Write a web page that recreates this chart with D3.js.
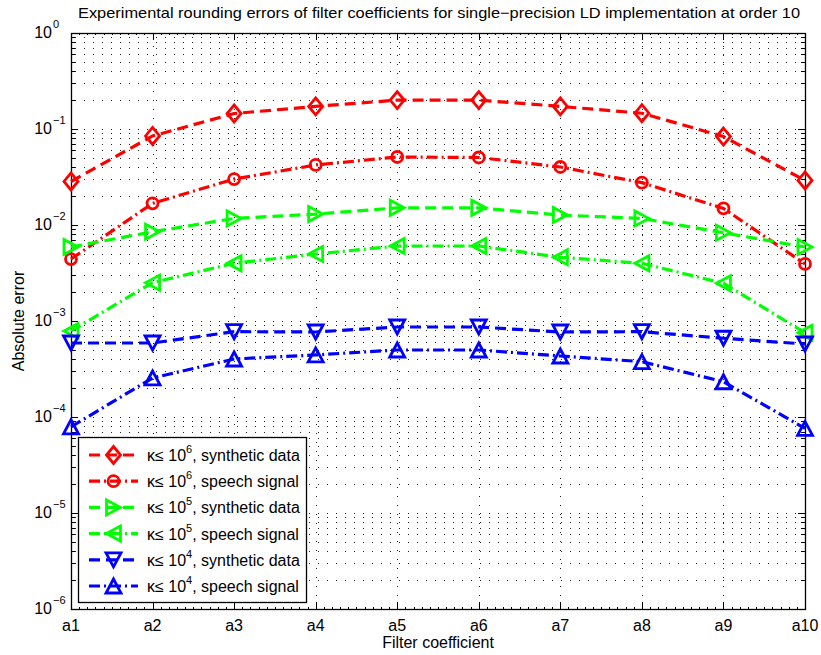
<!DOCTYPE html>
<html>
<head>
<title>Rounding errors of filter coefficients</title>
<script src="https://d3js.org/d3.v7.min.js"></script>
<style>
body { margin: 0; background: #fff; }
text { font-family: "Liberation Sans", Arial, Helvetica, sans-serif; fill: #000; }
</style>
</head>
<body>
<svg width="821" height="655"></svg>
<script>
// chart data
var coefficients = ["a1", "a2", "a3", "a4", "a5", "a6", "a7", "a8", "a9", "a10"];
var k6Synthetic = [0.0284, 0.0846, 0.145, 0.172, 0.200, 0.200, 0.172, 0.146, 0.0835, 0.0291];
var k6Speech    = [0.00442, 0.0168, 0.0301, 0.0422, 0.0511, 0.0505, 0.0402, 0.0276, 0.0149, 0.00393];
var k5Synthetic = [0.0059, 0.0085, 0.0117, 0.0130, 0.0151, 0.0151, 0.0127, 0.0117, 0.0083, 0.0059];
var k5Speech    = [0.000787, 0.00251, 0.00399, 0.00499, 0.00604, 0.00604, 0.00461, 0.00399, 0.00247, 0.000755];
var k4Synthetic = [0.00059, 0.00059, 0.000774, 0.000768, 0.000866, 0.000866, 0.000768, 0.000774, 0.000661, 0.000576];
var k4Speech    = [0.000079, 0.000255, 0.000402, 0.000443, 0.000499, 0.000499, 0.000432, 0.000377, 0.000233, 0.000076];
var kappaExponents = [6, 6, 5, 5, 4, 4];
var signalKinds = ["synthetic data", "speech signal", "synthetic data", "speech signal", "synthetic data", "speech signal"];
var yTickExponents = [0, -1, -2, -3, -4, -5, -6];

var titleText = "Experimental rounding errors of filter coefficients for single\u2212precision LD implementation at order 10";

var series = [
    { values: k6Synthetic, color: "#ff0000", dash: "11,6", marker: "diamond" },
    { values: k6Speech,    color: "#ff0000", dash: "11,4,2,4", marker: "circle" },
    { values: k5Synthetic, color: "#00ff00", dash: "11,6", marker: "right" },
    { values: k5Speech,    color: "#00ff00", dash: "11,4,2,4", marker: "left" },
    { values: k4Synthetic, color: "#0000ff", dash: "11,6", marker: "down" },
    { values: k4Speech,    color: "#0000ff", dash: "11,4,2,4", marker: "up" }
];

var svg = d3.select("svg");
var pLeft = 71, pRight = 805, pTop = 33, pBottom = 609;

var x = d3.scalePoint().domain(coefficients).range([pLeft, pRight]);
var y = d3.scaleLog().domain([1e-6, 1]).range([pBottom, pTop]);

// grid (dotted), major and minor decades
var grid = svg.append("g").attr("stroke", "#222").attr("stroke-width", 1)
    .attr("stroke-dasharray", "1,8").attr("fill", "none");
var minorVals = [];
for (var e = -6; e < 0; e++) {
    for (var m = 1; m < 10; m++) minorVals.push(m * Math.pow(10, e));
}
minorVals.push(1);
grid.selectAll(".hgrid").data(minorVals.slice(1, -1)).enter().append("line")
    .attr("x1", pLeft + 4).attr("x2", pRight)
    .attr("y1", function(d) { return Math.round(y(d)) + 0.5; })
    .attr("y2", function(d) { return Math.round(y(d)) + 0.5; });
grid.selectAll(".vgrid").data(coefficients.slice(1, -1)).enter().append("line")
    .attr("x1", function(d) { return Math.round(x(d)) + 0.5; })
    .attr("x2", function(d) { return Math.round(x(d)) + 0.5; })
    .attr("y1", pTop + 4).attr("y2", pBottom);

// ticks on all four sides
var ticks = svg.append("g").attr("stroke", "#000").attr("stroke-width", 1);
var majorVals = yTickExponents.map(function(e) { return Math.pow(10, e); });
minorVals.forEach(function(v) {
    var isMajor = majorVals.some(function(mv) { return Math.abs(mv - v) < mv * 1e-9; });
    var len = isMajor ? 7 : 4;
    var yy = Math.round(y(v)) + 0.5;
    ticks.append("line").attr("x1", pLeft).attr("x2", pLeft + len).attr("y1", yy).attr("y2", yy);
    ticks.append("line").attr("x1", pRight - len).attr("x2", pRight).attr("y1", yy).attr("y2", yy);
});
coefficients.forEach(function(c, i) {
    var xx = Math.round(x(c)) + 0.5;
    ticks.append("line").attr("x1", xx).attr("x2", xx).attr("y1", pBottom).attr("y2", pBottom - 7);
    ticks.append("line").attr("x1", xx).attr("x2", xx).attr("y1", pTop).attr("y2", pTop + 7);
    if (i < coefficients.length - 1) {
        var step = x.step() / 10;
        for (var k = 1; k < 10; k++) {
            var mx = Math.round(x(c) + k * step) + 0.5;
            ticks.append("line").attr("x1", mx).attr("x2", mx).attr("y1", pBottom).attr("y2", pBottom - 2);
            ticks.append("line").attr("x1", mx).attr("x2", mx).attr("y1", pTop).attr("y2", pTop + 2);
        }
    }
});

// frame
svg.append("rect").attr("x", pLeft + 0.5).attr("y", pTop + 0.5)
    .attr("width", pRight - pLeft).attr("height", pBottom - pTop)
    .attr("fill", "none").attr("stroke", "#000").attr("stroke-width", 1.3);

// markers
function markerPath(kind) {
    var w = 7.5, h = 7;
    if (kind === "diamond") return "M0,-8.5L7,0L0,8.5L-7,0Z";
    if (kind === "down") return "M" + (-w) + "," + (-h) + "L" + w + "," + (-h) + "L0," + h + "Z";
    if (kind === "up") return "M" + (-w) + "," + h + "L" + w + "," + h + "L0," + (-h) + "Z";
    if (kind === "right") return "M" + (-h) + "," + (-w) + "L" + h + ",0L" + (-h) + "," + w + "Z";
    if (kind === "left") return "M" + h + "," + (-w) + "L" + (-h) + ",0L" + h + "," + w + "Z";
    return null;
}
function drawMarker(g, kind, color) {
    if (kind === "circle") {
        g.append("circle").attr("r", 5.5).attr("fill", "none")
            .attr("stroke", color).attr("stroke-width", 2.8);
    } else {
        g.append("path").attr("d", markerPath(kind)).attr("fill", "none")
            .attr("stroke", color).attr("stroke-width", 2.8).attr("stroke-linejoin", "miter");
    }
}

var line = d3.line()
    .x(function(d, i) { return x(coefficients[i]); })
    .y(function(d) { return y(d); });

series.forEach(function(s) {
    svg.append("path").datum(s.values)
        .attr("d", line).attr("fill", "none")
        .attr("stroke", s.color).attr("stroke-width", 3.2)
        .attr("stroke-dasharray", s.dash);
    s.values.forEach(function(v, i) {
        var g = svg.append("g").attr("transform", "translate(" + x(coefficients[i]) + "," + y(v) + ")");
        drawMarker(g, s.marker, s.color);
    });
});

// y tick labels 10^k
yTickExponents.forEach(function(e) {
    var yy = y(Math.pow(10, e));
    svg.append("text").attr("x", 52).attr("y", yy + 5).attr("text-anchor", "end")
        .style("font-size", "16px").text("10");
    svg.append("text").attr("x", 53).attr("y", yy - 5)
        .style("font-size", "11px").text(e === 0 ? "0" : "\u2212" + (-e));
});

// x tick labels
coefficients.forEach(function(c) {
    svg.append("text").attr("x", x(c)).attr("y", 631).attr("text-anchor", "middle")
        .style("font-size", "16px").text(c);
});

// axis labels and title
svg.append("text").attr("x", (pLeft + pRight) / 2).attr("y", 648).attr("text-anchor", "middle")
    .style("font-size", "16px").text("Filter coefficient");
svg.append("text").attr("transform", "translate(24," + (pTop + pBottom) / 2 + ") rotate(-90)")
    .attr("text-anchor", "middle").style("font-size", "16px").text("Absolute error");
svg.append("text").attr("x", (pLeft + pRight) / 2 + 1).attr("y", 18).attr("text-anchor", "middle")
    .attr("textLength", 722).attr("lengthAdjust", "spacingAndGlyphs")
    .style("font-size", "15px").text(titleText);

// legend
var legend = svg.append("g");
legend.append("rect").attr("x", 78.5).attr("y", 437.5).attr("width", 228).attr("height", 165)
    .attr("fill", "#fff").attr("stroke", "#000").attr("stroke-width", 1.3);
series.forEach(function(s, i) {
    var ly = 455 + i * 26.2;
    legend.append("line").attr("x1", 89).attr("x2", 138).attr("y1", ly).attr("y2", ly)
        .attr("stroke", s.color).attr("stroke-width", 3.2).attr("stroke-dasharray", s.dash);
    var g = legend.append("g").attr("transform", "translate(113.5," + ly + ")");
    drawMarker(g, s.marker, s.color);
    var t = legend.append("text").attr("x", 147).attr("y", ly + 6).style("font-size", "16px");
    t.append("tspan").text("\u03ba\u2264 10");
    t.append("tspan").attr("dy", -8).style("font-size", "11px").text(kappaExponents[i]);
    t.append("tspan").attr("dy", 8).text(", " + signalKinds[i]);
});
</script>
</body>
</html>
